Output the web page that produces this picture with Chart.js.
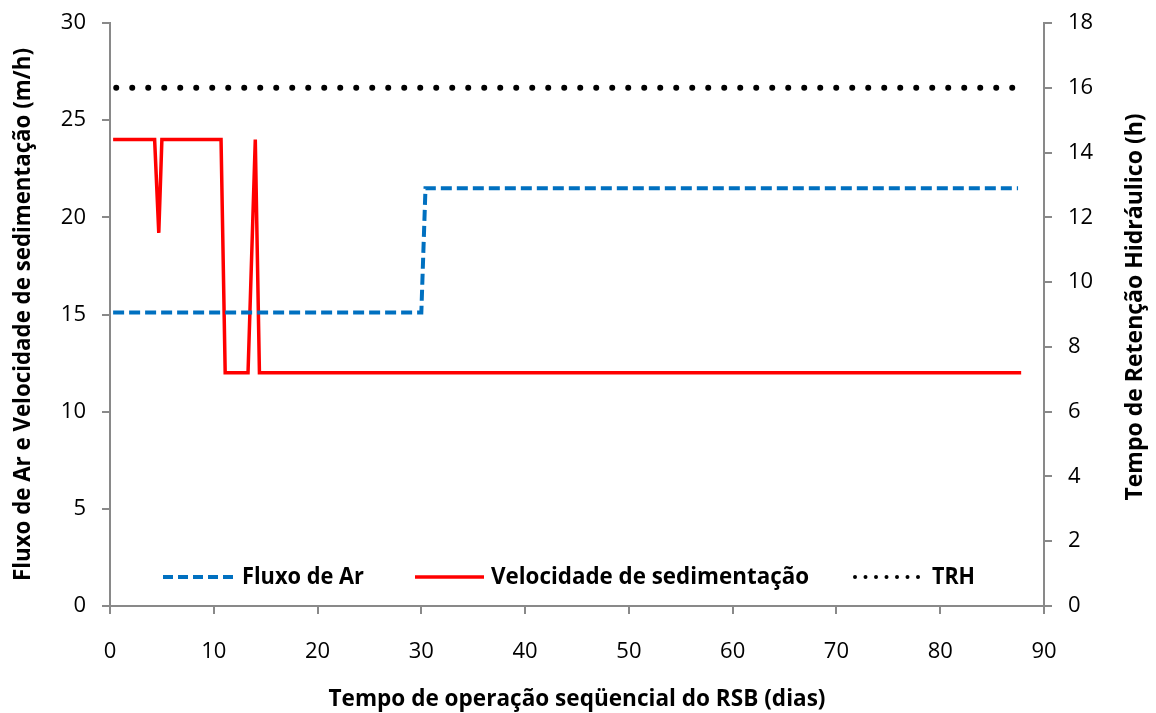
<!DOCTYPE html>
<html>
<head>
<meta charset="utf-8">
<script src="https://cdn.jsdelivr.net/npm/chart.js@4.4.0/dist/chart.umd.min.js"></script>
<style>
  body { margin: 0; background: #fff; }
  #wrap { width: 1156px; height: 713px; position: relative; }
</style>
</head>
<body>
<div id="wrap"><canvas id="grafico"></canvas></div>
<script>
// tempo (dias) e valores de cada serie
var diasAr = [0.3, 30.0, 30.4, 87.5];
var fluxoAr = [15.1, 15.1, 21.5, 21.5];

var diasVel = [0.3, 4.3, 4.7, 5.0, 10.7, 11.1, 13.3, 14.0, 14.4, 87.8];
var velSed = [24, 24, 19.2, 24, 24, 12, 12, 24, 12, 12];

var diasTRH = [0.6, 87.3];
var trh = [16, 16];

var ticksX = [0, 10, 20, 30, 40, 50, 60, 70, 80, 90];
var ticksEsq = [0, 5, 10, 15, 20, 25, 30];
var ticksDir = [0, 2, 4, 6, 8, 10, 12, 14, 16, 18];

var nomes = ["Fluxo de Ar", "Velocidade de sedimentação", "TRH"];
var tituloX = "Tempo de operação seqüencial do RSB (dias)";
var tituloEsq = "Fluxo de Ar e Velocidade de sedimentação (m/h)";
var tituloDir = "Tempo de Retenção Hidráulico (h)";

var cinza = "#898989";
var fonte = "'Open Sans', sans-serif";

function pares(xs, ys) {
  var r = [];
  for (var i = 0; i < xs.length; i++) r.push({ x: xs[i], y: ys[i] });
  return r;
}

// eixo vertical com largura fixa e sem folga extra em cima/baixo
function fixaLargura(w) {
  return function (s) {
    s.width = w;
    s.paddingTop = 0;
    s.paddingBottom = 0;
  };
}

// titulos dos eixos e legenda desenhados a mao
var extras = {
  id: 'extras',
  afterDraw: function (chart) {
    var ctx = chart.ctx;
    var a = chart.chartArea;
    ctx.save();
    ctx.fillStyle = '#000';
    ctx.font = "bold 23px " + fonte;
    ctx.textBaseline = 'middle';
    ctx.textAlign = 'center';
    ctx.fillText(tituloX, (a.left + a.right) / 2, 699, 497);

    ctx.save();
    ctx.translate(23, (a.top + a.bottom) / 2);
    ctx.rotate(-Math.PI / 2);
    ctx.fillText(tituloEsq, 0, 0, 533);
    ctx.restore();

    ctx.save();
    ctx.translate(1135, 307);
    ctx.rotate(-Math.PI / 2);
    ctx.fillText(tituloDir, 0, 0, 393);
    ctx.restore();

    // legenda
    var y = 577;
    ctx.textAlign = 'left';
    ctx.lineWidth = 4;
    ctx.strokeStyle = '#0070C0';
    ctx.setLineDash([10, 5]);
    ctx.beginPath(); ctx.moveTo(163, y); ctx.lineTo(234, y); ctx.stroke();
    ctx.fillText(nomes[0], 242, y, 122);

    ctx.lineWidth = 3.5;
    ctx.strokeStyle = '#FF0000';
    ctx.setLineDash([]);
    ctx.beginPath(); ctx.moveTo(415, y); ctx.lineTo(484, y); ctx.stroke();
    ctx.fillText(nomes[1], 491, y, 318);

    ctx.lineWidth = 4;
    ctx.strokeStyle = '#000';
    ctx.lineCap = 'round';
    ctx.setLineDash([0, 10.5]);
    ctx.beginPath(); ctx.moveTo(855, y); ctx.lineTo(920, y); ctx.stroke();
    ctx.fillText(nomes[2], 932, y, 43);
    ctx.restore();
  }
};

var ctxG = document.getElementById('grafico');
new Chart(ctxG, {
  type: 'line',
  data: {
    datasets: [{
      label: nomes[0],
      data: pares(diasAr, fluxoAr),
      yAxisID: 'y',
      borderColor: '#0070C0',
      borderWidth: 4,
      borderDash: [11, 5],
      pointRadius: 0,
      tension: 0
    }, {
      label: nomes[1],
      data: pares(diasVel, velSed),
      yAxisID: 'y',
      borderColor: '#FF0000',
      borderWidth: 3.5,
      borderJoinStyle: 'miter',
      pointRadius: 0,
      tension: 0
    }, {
      label: nomes[2],
      data: pares(diasTRH, trh),
      yAxisID: 'y2',
      borderColor: '#000000',
      borderWidth: 6,
      borderDash: [0, 16],
      borderCapStyle: 'round',
      pointRadius: 0,
      tension: 0
    }]
  },
  options: {
    responsive: true,
    maintainAspectRatio: false,
    animation: false,
    layout: { padding: { top: 23, left: 0, right: 0, bottom: 0 } },
    plugins: { legend: { display: false }, tooltip: { enabled: false } },
    scales: {
      x: {
        type: 'linear',
        min: 0, max: 90,
        afterBuildTicks: function (s) { s.ticks = ticksX.map(function (v) { return { value: v }; }); },
        afterFit: function (s) { s.height = 107; },
        grid: { drawOnChartArea: false, color: cinza, lineWidth: 2, tickLength: 8 },
        border: { color: cinza, width: 2 },
        ticks: { color: '#000', font: { family: fonte, size: 22 }, padding: 25, maxRotation: 0 }
      },
      y: {
        position: 'left',
        min: 0, max: 30,
        afterBuildTicks: function (s) { s.ticks = ticksEsq.map(function (v) { return { value: v }; }); },
        afterFit: fixaLargura(110),
        grid: { drawOnChartArea: false, color: cinza, lineWidth: 2, tickLength: 8 },
        border: { color: cinza, width: 2 },
        ticks: { color: '#000', font: { family: fonte, size: 22 }, padding: 16 }
      },
      y2: {
        position: 'right',
        min: 0, max: 18,
        afterBuildTicks: function (s) { s.ticks = ticksDir.map(function (v) { return { value: v }; }); },
        afterFit: fixaLargura(112),
        grid: { drawOnChartArea: false, color: cinza, lineWidth: 2, tickLength: 8 },
        border: { color: cinza, width: 2 },
        ticks: { color: '#000', font: { family: fonte, size: 22 }, padding: 16 }
      }
    }
  },
  plugins: [extras]
});
</script>
</body>
</html>
